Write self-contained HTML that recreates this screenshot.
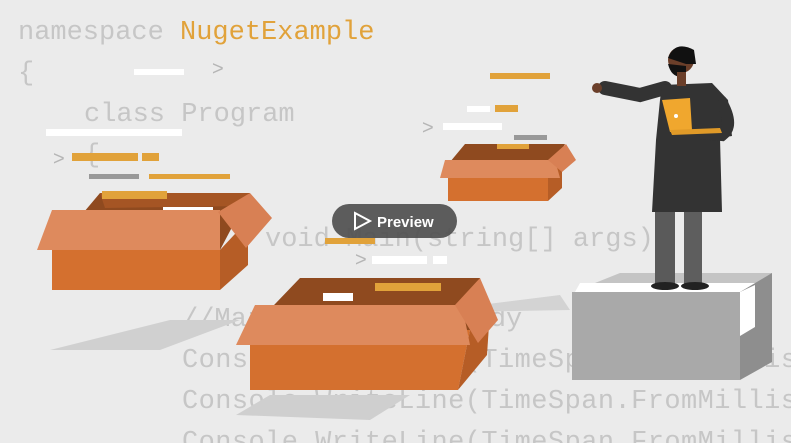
<!DOCTYPE html>
<html><head><meta charset="utf-8"><style>
html,body{margin:0;padding:0;background:#ebebeb;}
svg{display:block}
</style></head><body>
<svg width="791" height="443" viewBox="0 0 791 443" xmlns="http://www.w3.org/2000/svg">
<rect width="791" height="443" fill="#ebebeb"/>
<g font-family="Liberation Mono, monospace" font-size="27" fill="#c6c6c6" textLength="0">
<text x="18" y="39">namespace <tspan fill="#e1a23a">NugetExample</tspan></text>
<text x="18" y="80">{</text>
<text x="84" y="121">class Program</text>
<text x="84" y="162">{</text>
<text x="265" y="246">void Main(string[] args)</text>
<text x="182" y="326">//Main method already</text>
<text x="182" y="367" textLength="615">Console.WriteLine(TimeSpan.FromMillis</text>
<text x="182" y="408" textLength="615">Console.WriteLine(TimeSpan.FromMillis</text>
<text x="182" y="449" textLength="615">Console.WriteLine(TimeSpan.FromMillis</text>
</g>
<g font-family="Liberation Sans, sans-serif" font-size="20" fill="#b5b5b5">
<text x="212" y="75">&gt;</text><text x="53" y="165">&gt;</text><text x="422" y="134">&gt;</text><text x="355" y="266">&gt;</text>
</g>
<rect x="134" y="69" width="50" height="6" fill="#fff"/>
<rect x="46" y="129" width="136" height="7" fill="#fff"/>
<rect x="72" y="153" width="66" height="8" fill="#e1a23a"/>
<rect x="142" y="153" width="17" height="8" fill="#e1a23a"/>
<rect x="89" y="174" width="50" height="5" fill="#999"/>
<rect x="149" y="174" width="81" height="5" fill="#e1a23a"/>
<rect x="490" y="73" width="60" height="6" fill="#e1a23a"/>
<rect x="467" y="106" width="23" height="6" fill="#fff"/>
<rect x="495" y="105" width="23" height="7" fill="#e1a23a"/>
<rect x="443" y="123" width="59" height="7" fill="#fff"/>
<rect x="514" y="135" width="33" height="5" fill="#999"/>
<rect x="325" y="238" width="50" height="6" fill="#e1a23a"/>
<rect x="372" y="256" width="55" height="8" fill="#fff"/>
<rect x="433" y="256" width="14" height="8" fill="#fff"/>
<polygon points="50,350 170,320 240,320 160,350" fill="#d0d0d0"/>
<polygon points="236,415 270,395 410,395 370,420" fill="#cfcfcf"/>
<polygon points="440,310 560,295 570,310 460,312" fill="#d3d3d3"/>
<polygon points="52,250 100,193 250,193 220,250" fill="#8f4a1f"/>
<polygon points="100,193 250,193 245,206 105,208" fill="#a55524"/>
<rect x="102" y="191" width="65" height="8" fill="#e1a23a"/>
<rect x="163" y="207" width="50" height="6" fill="#fff"/>
<polygon points="52,250 220,250 220,290 52,290" fill="#d4702f"/>
<polygon points="220,250 248,220 248,265 220,290" fill="#b65d26"/>
<polygon points="52,210 220,210 220,250 37,250" fill="#de8a5d"/>
<polygon points="218,212 250,193 272,218 246,248" fill="#d88054"/>
<polygon points="250,330 300,278 480,278 470,330" fill="#8f4a1f"/>
<rect x="375" y="283" width="66" height="8" fill="#e1a23a"/>
<rect x="323" y="293" width="30" height="8" fill="#fff"/>
<polygon points="250,330 470,330 458,390 250,390" fill="#d4702f"/>
<polygon points="458,390 470,330 490,310 487,355" fill="#b65d26"/>
<polygon points="255,305 462,305 470,345 236,345" fill="#de8a5d"/>
<polygon points="455,305 480,278 498,320 478,343" fill="#d88054"/>
<polygon points="450,162 465,144 565,144 555,162" fill="#8f4a1f"/>
<rect x="497" y="144" width="32" height="5" fill="#e1a23a"/>
<polygon points="448,175 548,175 548,201 448,201" fill="#d4702f"/>
<polygon points="548,175 562,162 562,188 548,201" fill="#b65d26"/>
<polygon points="445,160 555,160 560,178 440,178" fill="#de8a5d"/>
<polygon points="548,160 566,144 576,160 562,172" fill="#d88054"/>
<polygon points="595,283 620,273 772,273 755,292" fill="#c4c4c4"/>
<polygon points="580,283 760,283 762,292 575,292" fill="#fff"/>
<rect x="572" y="292" width="168" height="88" fill="#a9a9a9"/>
<polygon points="740,292 772,273 772,362 740,380" fill="#8e8e8e"/>
<polygon points="740,292 755,285 755,327 740,336" fill="#fff"/>
<!-- person -->
<rect x="655" y="205" width="20" height="80" fill="#5a5a5a"/>
<rect x="684" y="205" width="18" height="80" fill="#5e5e5e"/>
<ellipse cx="665" cy="286" rx="14" ry="4" fill="#222"/>
<ellipse cx="695" cy="286" rx="14" ry="4" fill="#222"/>
<path d="M605 88 L640 95 L665 88" stroke="#333" stroke-width="14" fill="none" stroke-linecap="round"/>
<polygon points="662,85 712,83 728,100 732,136 720,138 722,212 652,212 656,140 660,100" fill="#333"/>
<path d="M720 100 Q735 125 722 135 L700 133" stroke="#333" stroke-width="12" fill="none"/>
<circle cx="681" cy="60" r="13" fill="#6b3f2a"/>
<path d="M668 58 Q675 40 694 50 L696 64 L686 64 Z" fill="#111"/>
<path d="M668 64 Q672 80 686 76 L686 66 Z" fill="#111"/>
<rect x="677" y="72" width="9" height="14" fill="#6b3f2a"/>
<circle cx="597" cy="88" r="5" fill="#6b3f2a"/>
<polygon points="662,100 690,98 692,130 670,132" fill="#f0a72e"/>
<circle cx="676" cy="116" r="2" fill="#fff"/>
<polygon points="670,130 720,128 722,133 672,135" fill="#e09a28"/>
<rect x="332" y="204" width="125" height="34" rx="17" fill="#4d4d4d" fill-opacity="0.9"/>
<polygon points="355,213 370,221 355,229" fill="none" stroke="#fff" stroke-width="2"/>
<text x="377" y="227" font-family="Liberation Sans, sans-serif" font-weight="bold" font-size="15" fill="#fff">Preview</text>
</svg>
</body></html>
